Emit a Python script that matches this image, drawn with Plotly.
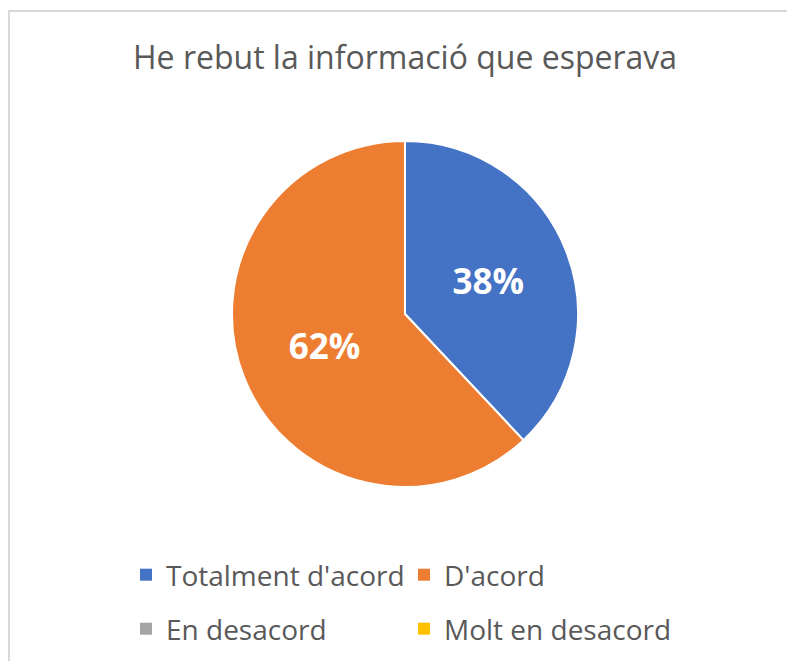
import plotly.graph_objects as go

title_text = "He rebut la informació que esperava"
labels = ["Totalment d'acord", "D'acord", "En desacord", "Molt en desacord"]
values = [38, 62, 0, 0]
colors = ["#4472C4", "#ED7D31", "#A5A5A5", "#FFC000"]
legend_rows = ["legend", "legend", "legend2", "legend2"]

W, H = 787, 661
ML, MR, MT, MB = 0, 100, 0, 0
PW, PH = W - ML - MR, H - MT - MB

# pie geometry (pixels)
cx, cy, r = 405, 314, 173
dom_x = [(cx - r - ML) / PW, (cx + r - ML) / PW]
dom_y = [(H - MB - (cy + r)) / PH, (H - MB - (cy - r)) / PH]

FONT = "Open Sans, Noto Sans, sans-serif"

fig = go.Figure()
fig.add_trace(go.Pie(
    labels=labels, values=values,
    marker=dict(colors=colors, line=dict(color="white", width=2)),
    sort=False, direction="clockwise", rotation=0,
    texttemplate=["%{percent:.0%}" if v > 0 else "" for v in values],
    textposition="inside",
    insidetextorientation="horizontal",
    textfont=dict(family=FONT, size=35, color="white", weight="bold"),
    domain=dict(x=dom_x, y=dom_y), hoverinfo="label+percent",
    showlegend=False,
))
# legend entries (two rows, as in the original)
for lab, col, lg in zip(labels, colors, legend_rows):
    fig.add_trace(go.Scatter(
        x=[None], y=[None], mode="markers", name=lab,
        marker=dict(symbol="square", size=12, color=col, line=dict(width=0)),
        legend=lg, hoverinfo="skip",
    ))

legend_common = dict(
    orientation="h", xanchor="left", yanchor="middle",
    font=dict(family=FONT, size=28, color="#595959"),
    entrywidth=233, entrywidthmode="pixels",
    bgcolor="rgba(0,0,0,0)", borderwidth=0,
)
fig.update_layout(
    width=W, height=H,
    margin=dict(l=ML, r=MR, t=MT, b=MB),
    paper_bgcolor="white", plot_bgcolor="white",
    showlegend=True,
    xaxis=dict(visible=False), yaxis=dict(visible=False),
    legend=dict(x=(126 - ML) / PW, y=(H - MB - 575) / PH, **legend_common),
    legend2=dict(x=(126 - ML) / PW, y=(H - MB - 629) / PH, **legend_common),
    annotations=[dict(
        text=title_text, xref="paper", yref="paper",
        x=(405 - ML) / PW, y=(H - MB - 57) / PH, xanchor="center", yanchor="middle",
        showarrow=False, font=dict(family=FONT, size=32, color="#595959"),
    )],
    shapes=[dict(
        type="rect", xref="paper", yref="paper", layer="below",
        x0=(9 - ML) / PW, x1=(W + 20 - ML) / PW,
        y0=-0.1, y1=(H - MB - 11) / PH,
        line=dict(color="#D9D9D9", width=2), fillcolor="rgba(0,0,0,0)",
    )],
)
fig.write_html("out.html", config={"displayModeBar": False},
               post_script="document.body.style.margin='0px';")
